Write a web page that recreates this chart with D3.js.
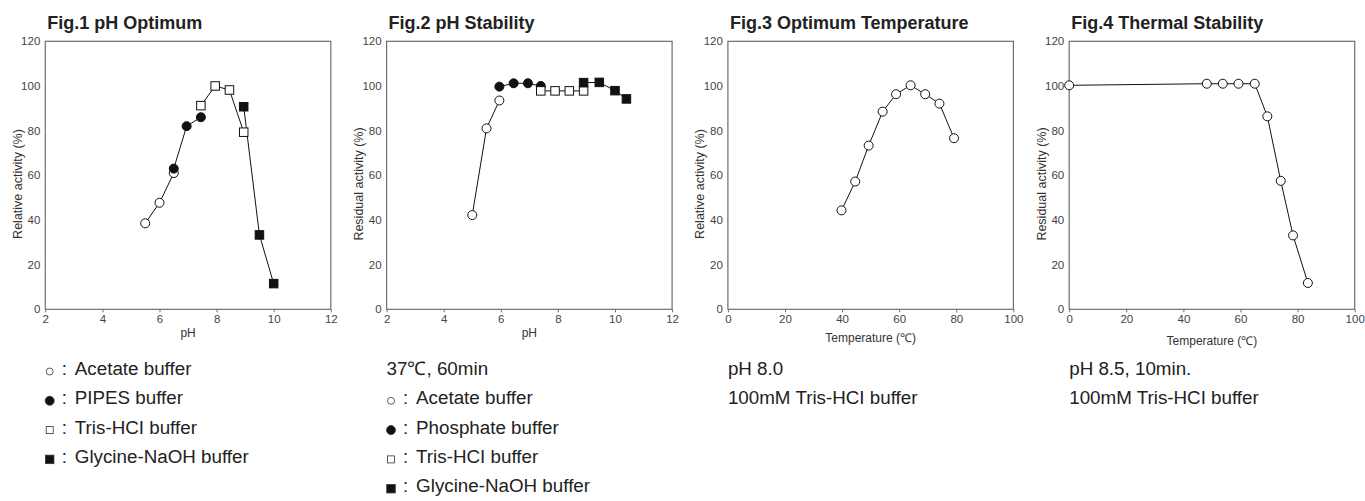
<!DOCTYPE html>
<html>
<head>
<meta charset="utf-8">
<script src="https://cdn.jsdelivr.net/npm/d3@7"></script>
<style>
  body { margin: 0; background: #fff; }
  svg { display: block; font-family: "Liberation Sans", Arial, sans-serif; }
</style>
</head>
<body>
<svg id="chart" width="1365" height="501"></svg>
<script>
// --- data ---
// Fig.1 pH optimum  [pH, relative activity %]
const optAcetate  = [[5.5, 38.5], [6.0, 47.7], [6.5, 61]];
const optPipes    = [[6.5, 63], [6.95, 82], [7.45, 86]];
const optTris     = [[7.45, 91.2], [7.95, 100], [8.45, 98.2], [8.95, 79.3]];
const optGlycine  = [[8.95, 90.7], [9.5, 33.3], [10.0, 11.5]];

// Fig.2 pH stability  [pH, residual activity %]
const stabAcetate   = [[5.0, 42.2], [5.5, 81], [5.95, 93.5]];
const stabPhosphate = [[5.95, 99.7], [6.45, 101.2], [6.95, 101.2], [7.4, 100]];
const stabTris      = [[7.4, 97.8], [7.9, 97.8], [8.4, 97.8], [8.9, 97.8]];
const stabGlycine   = [[8.9, 101.5], [9.45, 101.6], [10.0, 97.9], [10.4, 94.2]];

// Fig.3 optimum temperature  [°C, relative activity %]
const optTemp = [[39.8, 44.3], [44.6, 57.2], [49.3, 73.3], [54.2, 88.5], [58.9, 96.3],
                 [64, 100.3], [69.1, 96.3], [74.1, 92.1], [79.2, 76.6]];

// Fig.4 thermal stability  [°C, residual activity %]
const thermStab = [[0, 100.3], [48.2, 101], [53.8, 101], [59.3, 101], [65, 101],
                   [69.4, 86.4], [74.1, 57.5], [78.4, 33.1], [83.6, 11.8]];

const phTicks   = [2, 4, 6, 8, 10, 12];
const tempTicks = [0, 20, 40, 60, 80, 100];
const yTicks    = [0, 20, 40, 60, 80, 100, 120];

const titles  = ["Fig.1 pH Optimum", "Fig.2 pH Stability", "Fig.3 Optimum Temperature", "Fig.4 Thermal Stability"];
const yLabels = ["Relative activity (%)", "Residual activity (%)", "Relative activity (%)", "Residual activity (%)"];
const xLabels = ["pH", "pH", "Temperature (\u2103)", "Temperature (\u2103)"];

const notes1 = [["circle", "Acetate buffer"], ["disc", "PIPES buffer"], ["square", "Tris-HCI buffer"], ["block", "Glycine-NaOH buffer"]];
const notes2 = [[null, "37\u2103, 60min"], ["circle", "Acetate buffer"], ["disc", "Phosphate buffer"], ["square", "Tris-HCI buffer"], ["block", "Glycine-NaOH buffer"]];
const notes3 = [[null, "pH 8.0"], [null, "100mM Tris-HCI buffer"]];
const notes4 = [[null, "pH 8.5, 10min."], [null, "100mM Tris-HCI buffer"]];

const panels = [
  {series: [[optAcetate, "circle"], [optPipes, "disc"], [optTris, "square"], [optGlycine, "block"]], xDomain: [2, 12], xTicks: phTicks, notes: notes1, xLabelY: 337},
  {series: [[stabAcetate, "circle"], [stabPhosphate, "disc"], [stabTris, "square"], [stabGlycine, "block"]], xDomain: [2, 12], xTicks: phTicks, notes: notes2, xLabelY: 337},
  {series: [[optTemp, "circle"]], xDomain: [0, 100], xTicks: tempTicks, notes: notes3, xLabelY: 342},
  {series: [[thermStab, "circle"]], xDomain: [0, 100], xTicks: tempTicks, notes: notes4, xLabelY: 345}
];

// --- layout ---
const svg = d3.select("#chart");
const plotW = 285.5, plotTop = 41.3, plotBottom = 309.3;
const firstLeft = 45.3, step = 341.3;
const axisColor = "#6e6e6e", inkColor = "#222";

// marker drawer: kind = circle | disc | square | block
function marker(g, kind, cx, cy, size, stroke, sw) {
  const filled = kind === "disc" || kind === "block";
  if (kind === "circle" || kind === "disc") {
    g.append("circle").attr("cx", cx).attr("cy", cy).attr("r", size / 2)
      .attr("fill", filled ? "#111" : "#fff")
      .attr("stroke", stroke).attr("stroke-width", sw);
  } else {
    g.append("rect").attr("x", cx - size / 2).attr("y", cy - size / 2)
      .attr("width", size).attr("height", size)
      .attr("fill", filled ? "#111" : "#fff")
      .attr("stroke", stroke).attr("stroke-width", sw);
  }
}

panels.forEach((p, i) => {
  const left = firstLeft + i * step;
  const x = d3.scaleLinear().domain(p.xDomain).range([left, left + plotW]);
  const y = d3.scaleLinear().domain([0, 120]).range([plotBottom, plotTop]);

  const g = svg.append("g").attr("class", "panel");

  // title
  g.append("text").attr("x", left + 2).attr("y", 29)
    .attr("font-size", 18).attr("font-weight", "bold").attr("fill", inkColor)
    .text(titles[i]);

  // x axis
  const xa = g.append("g").attr("transform", `translate(0,${plotBottom})`)
    .call(d3.axisBottom(x).tickValues(p.xTicks).tickSize(3).tickSizeOuter(0).tickPadding(3));
  xa.select(".domain").remove();
  xa.selectAll("line").attr("stroke", axisColor);
  xa.selectAll("text").attr("font-size", 11.5).attr("fill", "#444").attr("font-family", "Liberation Sans");

  // y axis
  const ya = g.append("g").attr("transform", `translate(${left},0)`)
    .call(d3.axisLeft(y).tickValues(yTicks).tickSize(0).tickPadding(5));
  ya.select(".domain").remove();
  ya.selectAll("text").attr("font-size", 11.5).attr("fill", "#444").attr("font-family", "Liberation Sans");

  // frame
  g.append("rect").attr("x", left).attr("y", plotTop).attr("width", plotW).attr("height", plotBottom - plotTop)
    .attr("fill", "none").attr("stroke", axisColor).attr("stroke-width", 1.2);

  // axis titles
  g.append("text").attr("transform", `translate(${left - 27.5},184) rotate(-90)`)
    .attr("text-anchor", "middle").attr("dominant-baseline", "central")
    .attr("font-size", 12.5).attr("fill", "#333").text(yLabels[i]);
  g.append("text").attr("x", left + plotW / 2).attr("y", p.xLabelY)
    .attr("text-anchor", "middle").attr("font-size", 12).attr("fill", "#333")
    .text(xLabels[i]);

  // series lines then markers
  const line = d3.line().x(d => x(d[0])).y(d => y(d[1]));
  p.series.forEach(([data]) => {
    g.append("path").datum(data).attr("d", line)
      .attr("fill", "none").attr("stroke", "#111").attr("stroke-width", 1);
  });
  p.series.forEach(([data, kind]) => {
    const size = (kind === "circle" || kind === "disc") ? 9 : 8.5;
    data.forEach(d => marker(g, kind, x(d[0]), y(d[1]), size, "#111", 1));
  });

  // notes under the chart
  p.notes.forEach(([kind, label], k) => {
    const base = 375 + k * 29.3;
    if (kind) {
      const sz = {circle: 7, disc: 9, square: 7, block: 8.5}[kind];
      marker(g, kind, left + 4.4, base - 3.5, sz, "#333", 0.8);
      g.append("text").attr("x", left + 16.5).attr("y", base)
        .attr("font-size", 18.5).attr("fill", inkColor).text(":");
      g.append("text").attr("x", left + 29.5).attr("y", base)
        .attr("font-size", 18.8).attr("fill", inkColor).text(label);
    } else {
      g.append("text").attr("x", left).attr("y", base)
        .attr("font-size", 18.8).attr("fill", inkColor).text(label);
    }
  });
});
</script>
</body>
</html>
